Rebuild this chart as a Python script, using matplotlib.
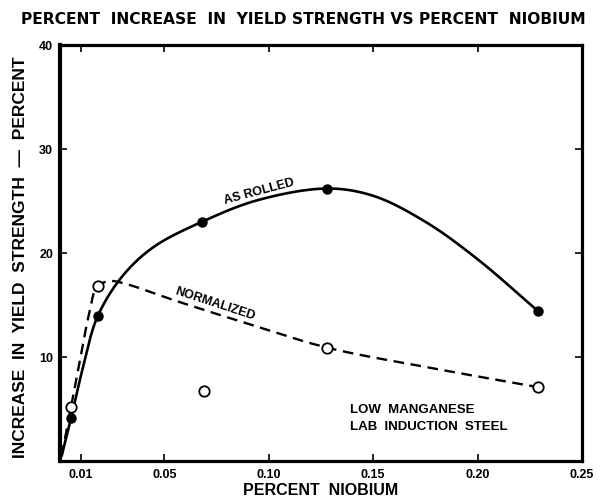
import numpy as np
import matplotlib
matplotlib.use("Agg")
import matplotlib.pyplot as plt

# ---- data ----
rolled_x = [0.0053, 0.018, 0.068, 0.128, 0.229]
rolled_y = [4.1, 13.9, 23.0, 26.2, 14.4]
norm_x = [0.0053, 0.018, 0.069, 0.128, 0.229]
norm_y = [5.2, 16.8, 6.7, 10.9, 7.1]

# traced hand-drawn curves
rolled_curve_x = [0.0008, 0.0053, 0.011, 0.018, 0.030, 0.045, 0.068,
                  0.095, 0.128, 0.150, 0.175, 0.200, 0.229]
rolled_curve_y = [0.5, 4.1, 9.0, 13.9, 17.8, 20.6, 23.0,
                  25.1, 26.2, 25.5, 23.0, 19.4, 14.4]
norm_curve_x = [0.0008, 0.0053, 0.0096, 0.014, 0.018, 0.024, 0.032, 0.054,
                0.090, 0.128, 0.179, 0.229]
norm_curve_y = [0.5, 5.2, 9.7, 14.2, 16.8, 17.3, 17.0, 15.5,
                13.2, 10.9, 8.9, 7.1]

xticks = [0.01, 0.05, 0.10, 0.15, 0.20, 0.25]
xtick_labels = ["0.01", "0.05", "0.10", "0.15", "0.20", "0.25"]
yticks = [10, 20, 30, 40]
ytick_labels = ["10", "20", "30", "40"]


def smooth(xs, ys, n=30, alpha=0.5):
    """Centripetal Catmull-Rom spline through traced points (drawing only)."""
    p = np.column_stack([xs, ys]).astype(float)
    sc = np.array([1 / 0.25, 1 / 40.0])
    q = p * sc
    q = np.vstack([2 * q[0] - q[1], q, 2 * q[-1] - q[-2]])
    out = []
    for i in range(1, len(q) - 2):
        P0, P1, P2, P3 = q[i - 1], q[i], q[i + 1], q[i + 2]
        t0 = 0.0
        t1 = t0 + np.linalg.norm(P1 - P0) ** alpha
        t2 = t1 + np.linalg.norm(P2 - P1) ** alpha
        t3 = t2 + np.linalg.norm(P3 - P2) ** alpha
        t = np.linspace(t1, t2, n, endpoint=False)[:, None]
        A1 = (t1 - t) / (t1 - t0) * P0 + (t - t0) / (t1 - t0) * P1
        A2 = (t2 - t) / (t2 - t1) * P1 + (t - t1) / (t2 - t1) * P2
        A3 = (t3 - t) / (t3 - t2) * P2 + (t - t2) / (t3 - t2) * P3
        B1 = (t2 - t) / (t2 - t0) * A1 + (t - t0) / (t2 - t0) * A2
        B2 = (t3 - t) / (t3 - t1) * A2 + (t - t1) / (t3 - t1) * A3
        C = (t2 - t) / (t2 - t1) * B1 + (t - t1) / (t2 - t1) * B2
        out.append(C)
    out.append(q[-2][None, :])
    r = np.vstack(out) / sc
    return r[:, 0], r[:, 1]


plt.rcParams['font.family'] = ['Liberation Sans', 'DejaVu Sans']

fig = plt.figure(figsize=(6.07, 5.01), dpi=100)
ax = fig.add_axes([60 / 607, 40 / 501, 522 / 607, 416 / 501])

sx, sy = smooth(rolled_curve_x, rolled_curve_y)
ax.plot(sx, sy, color='black', lw=1.9, solid_capstyle='round')
nx, ny = smooth(norm_curve_x, norm_curve_y)
ax.plot(nx, ny, color='black', lw=1.7, dashes=(4.5, 2.8))

ax.plot(rolled_x, rolled_y, 'o', color='black', ms=6.5, zorder=5)
ax.plot(norm_x, norm_y, 'o', mfc='white', mec='black', mew=1.3, ms=7.5, zorder=5)

ax.set_xlim(0, 0.25)
ax.set_ylim(0, 40)
ax.set_xticks(xticks)
ax.set_xticklabels(xtick_labels)
ax.set_yticks(yticks)
ax.set_yticklabels(ytick_labels)
ax.tick_params(direction='in', length=5, width=1.2, top=True, right=True,
               labelsize=9, pad=5)
ax.tick_params(axis='x', pad=6)
for lab in ax.get_xticklabels() + ax.get_yticklabels():
    lab.set_fontweight('bold')
for s in ax.spines.values():
    s.set_linewidth(2.3)
ax.spines['left'].set_linewidth(3.0)

ax.set_xlabel("PERCENT  NIOBIUM", fontsize=11.5, fontweight='bold', labelpad=1)
fig.text(0.033, 1 - 257 / 501, "INCREASE  IN  YIELD  STRENGTH  —  PERCENT",
         rotation=90, ha='center', va='center', fontsize=12.5, fontweight='bold')
fig.text(0.5, 1 - 19 / 501,
         "PERCENT  INCREASE  IN  YIELD STRENGTH VS PERCENT  NIOBIUM",
         ha='center', va='center', fontsize=11.2, fontweight='bold',
         family=['DejaVu Sans'])

ax.text(0.0953, 25.9, "AS ROLLED", rotation=15, ha='center', va='center',
        fontsize=9, fontweight='bold')
ax.text(0.0742, 15.1, "NORMALIZED", rotation=-18, ha='center', va='center',
        fontsize=9, fontweight='bold')
ax.text(0.139, 4.9, "LOW  MANGANESE", ha='left', va='center',
        fontsize=9.5, fontweight='bold')
ax.text(0.139, 3.3, "LAB  INDUCTION  STEEL", ha='left', va='center',
        fontsize=9.5, fontweight='bold')

fig.savefig("out.png", dpi=100)
